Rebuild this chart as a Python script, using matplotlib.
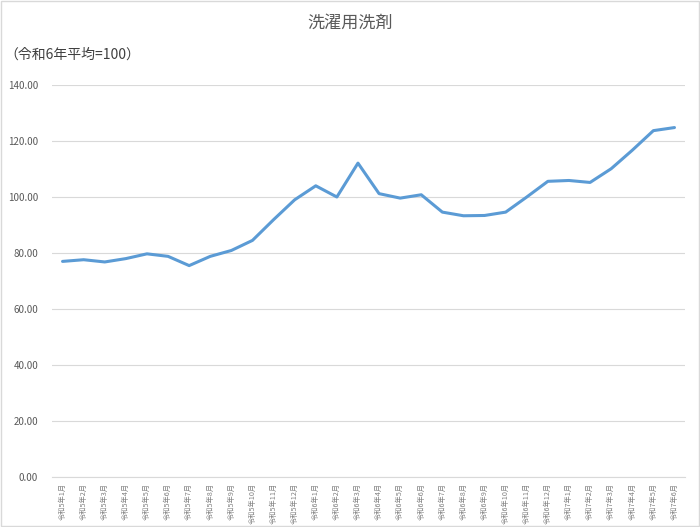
import matplotlib
matplotlib.use("Agg")
import matplotlib.pyplot as plt
from matplotlib.patches import Rectangle

plt.rcParams['font.family'] = ['Noto Sans CJK JP', 'DejaVu Sans']

months = (["令和5年%d月" % m for m in range(1, 13)] +
          ["令和6年%d月" % m for m in range(1, 13)] +
          ["令和7年%d月" % m for m in range(1, 7)])
values = [77.0, 77.6, 76.8, 78.0, 79.7, 78.8, 75.5, 78.8, 80.9, 84.5,
          91.9, 99.0, 104.0, 100.0, 112.1, 101.2, 99.6, 100.8, 94.6, 93.3,
          93.4, 94.6, 100.0, 105.6, 105.9, 105.2, 110.1, 116.7, 123.7, 124.8]
yticks = [0, 20, 40, 60, 80, 100, 120, 140]

fig = plt.figure(figsize=(7.0, 5.27), dpi=100)
ax = fig.add_axes([0.0743, 0.0949, 0.9043, 0.7438])

x = list(range(len(months)))
ax.plot(x, values, color='#5B9BD5', linewidth=2.2, solid_capstyle='round', zorder=3)

ax.set_xlim(-0.5, len(months) - 0.5)
ax.set_ylim(0, 140)
ax.set_yticks(yticks)
ax.set_yticklabels(["%.2f" % v for v in yticks], fontsize=7, color='#595959')
ax.set_xticks(x)
ax.set_xticklabels(months, rotation=90, fontsize=5.2, color='#808080', va='top')
ax.tick_params(axis='both', length=0, pad=4)
ax.tick_params(axis='y', pad=10)
ax.grid(axis='y', color='#D9D9D9', linewidth=0.8)
ax.set_axisbelow(True)
for s in ['top', 'right', 'left']:
    ax.spines[s].set_visible(False)
ax.spines['bottom'].set_color('#D9D9D9')
ax.spines['bottom'].set_linewidth(0.8)

fig.text(0.5, 0.957, "洗濯用洗剤", ha='center', va='center', fontsize=12.3, color='#595959')
fig.text(0.006, 0.897, "（令和6年平均=100）", ha='left', va='center', fontsize=10, color='#404040')

fig.patches.append(Rectangle((0.001, 0.001), 0.998, 0.998, transform=fig.transFigure,
                             fill=False, edgecolor='#D9D9D9', linewidth=1))

fig.savefig("out.png", dpi=100)
